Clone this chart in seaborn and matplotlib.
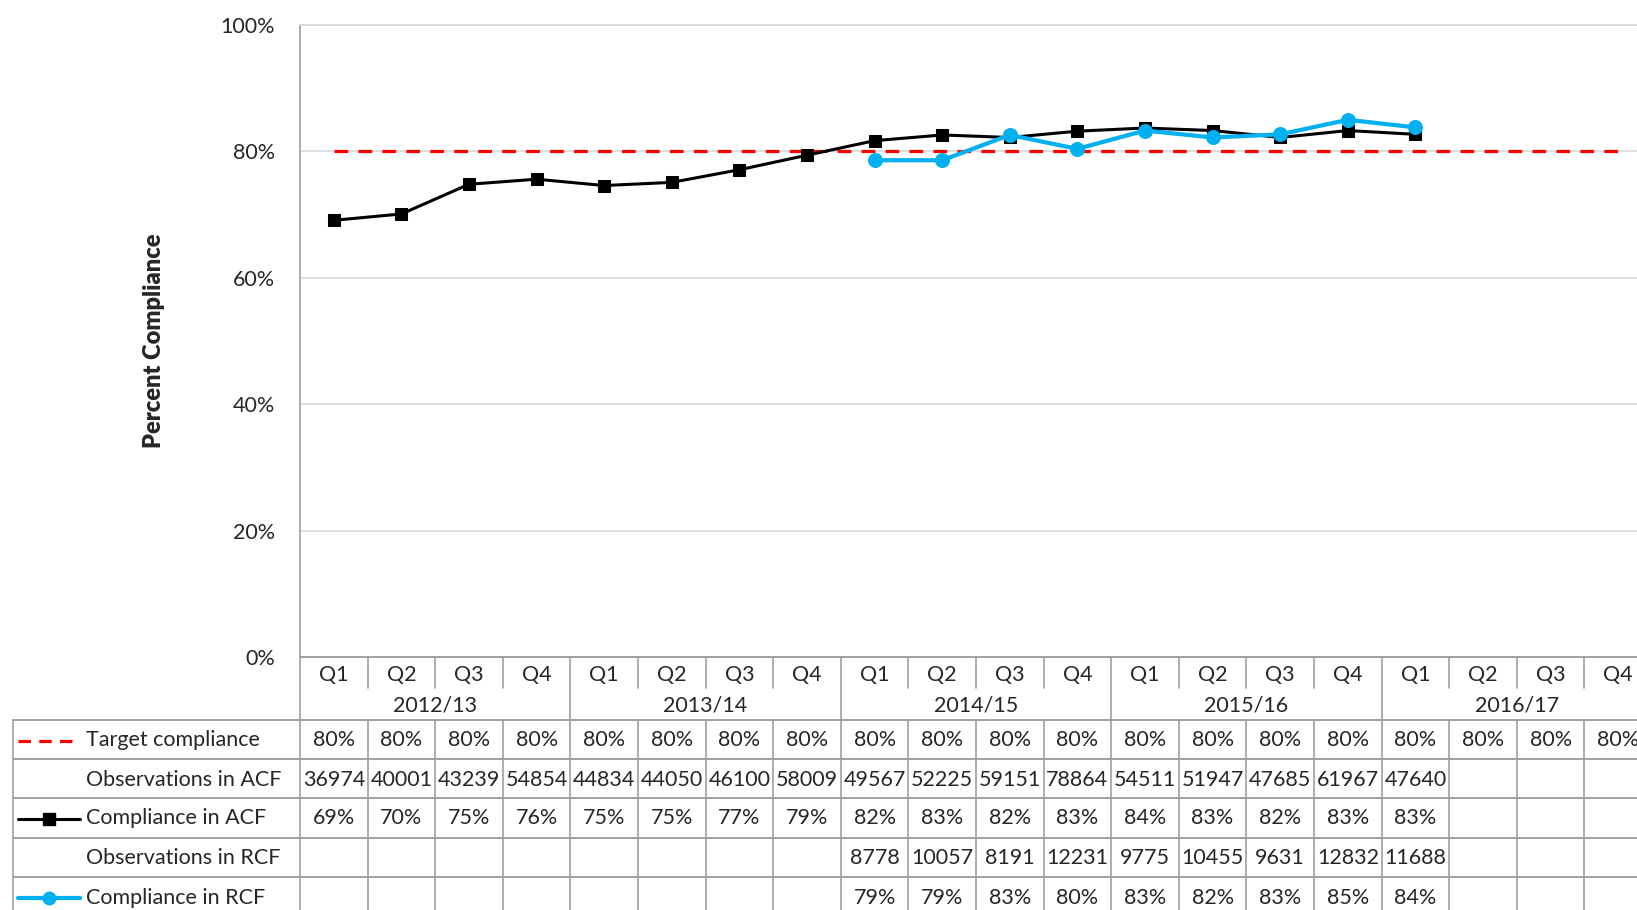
import numpy as np
import pandas as pd
import matplotlib
matplotlib.use("Agg")
import matplotlib.pyplot as plt
import matplotlib.transforms as mtransforms
from matplotlib.lines import Line2D
import seaborn as sns

sns.set_theme(style="white")
plt.rcParams["font.family"] = ["Lato", "DejaVu Sans"]

# ---- data ----
quarters = ["Q1", "Q2", "Q3", "Q4"] * 5
years = ["2012/13", "2013/14", "2014/15", "2015/16", "2016/17"]
target = [80] * 20
acf_obs = [36974, 40001, 43239, 54854, 44834, 44050, 46100, 58009,
           49567, 52225, 59151, 78864, 54511, 51947, 47685, 61967, 47640,
           None, None, None]
acf_pct = [69.1, 70.1, 74.8, 75.6, 74.6, 75.1, 77.1, 79.4,
           81.7, 82.6, 82.2, 83.2, 83.7, 83.3, 82.2, 83.3, 82.7,
           None, None, None]
rcf_obs = [None] * 8 + [8778, 10057, 8191, 12231, 9775, 10455, 9631, 12832, 11688,
                        None, None, None]
rcf_pct = [None] * 8 + [78.6, 78.6, 82.6, 80.4, 83.3, 82.2, 82.7, 85.0, 83.8,
                        None, None, None]

df = pd.DataFrame({
    "idx": np.arange(len(quarters)),
    "target": target,
    "acf": pd.array(acf_pct, dtype="Float64").astype(float),
    "rcf": pd.array(rcf_pct, dtype="Float64").astype(float),
})

W, H = 1637, 910
RED = "#FF0000"
CYAN = "#00B0F0"
GRID = "#D9D9D9"
LINE = "#A0A0A0"
FS = 15.5

fig = plt.figure(figsize=(W / 100, H / 100), dpi=100)
ax = fig.add_axes([300 / W, 1 - 657 / H, (1652 - 300) / W, (657 - 25) / H])

sns.lineplot(data=df, x="idx", y="target", ax=ax, color=RED, lw=2.3,
             linestyle=(0, (4.3, 3.2)))
sns.lineplot(data=df, x="idx", y="acf", ax=ax, color="black", lw=2.2,
             marker="s", markersize=9, markeredgecolor="black")
sns.lineplot(data=df, x="idx", y="rcf", ax=ax, color=CYAN, lw=3,
             marker="o", markersize=10, markeredgecolor=CYAN)

ax.set_xlim(-0.5, len(quarters) - 0.5)
ax.set_ylim(0, 100)
ax.set_yticks(np.arange(0, 101, 20))
ax.set_yticklabels([f"{v}%" for v in range(0, 101, 20)], fontsize=FS)
ax.tick_params(axis="y", length=0, pad=18)
ax.set_xticks([])
ax.set_xlabel("")
ax.set_ylabel("Percent Compliance", fontsize=17, fontweight="heavy", labelpad=40)
ax.yaxis.grid(True, color=GRID, lw=1.2)
for s in ["right", "bottom"]:
    ax.spines[s].set_visible(False)
ax.spines["left"].set_color(LINE)
ax.spines["top"].set_color(GRID)

# ---- data table below the plot ----
trans = mtransforms.blended_transform_factory(ax.transData, fig.transFigure)


def fy(px):
    return 1 - px / H


def fx(px):
    return px / W


def vline(x, y0, y1):
    fig.add_artist(Line2D([x, x], [fy(y0), fy(y1)], transform=trans,
                          color=LINE, lw=1.2))


def hline(x0px, y):
    fig.add_artist(Line2D([fx(x0px), 1.0], [fy(y), fy(y)],
                          transform=fig.transFigure, color=LINE, lw=1.4))


n = len(quarters)
# category axis header
hline(300, 657)
for i in range(n + 1):
    if i % 4 == 0:
        vline(i - 0.5, 657, 912)
    else:
        vline(i - 0.5, 657, 688)
        vline(i - 0.5, 720, 912)
for i, q in enumerate(quarters):
    fig.text(i, fy(675), q, transform=trans, ha="center", va="center", fontsize=FS)
for k, yr in enumerate(years):
    fig.text(4 * k + 1.5, fy(706), yr, transform=trans, ha="center", va="center",
             fontsize=FS)

row_tops = [720, 759, 798, 838, 877]
row_h = 39
for yt in row_tops:
    hline(13, yt)
fig.add_artist(Line2D([fx(13), fx(13)], [fy(720), fy(912)],
                      transform=fig.transFigure, color=LINE, lw=1.2))


def pct(v):
    return "" if v is None else f"{round(v)}%"


def num(v):
    return "" if v is None else str(v)


rows = [
    ("Target compliance", [pct(v) for v in target]),
    ("Observations in ACF", [num(v) for v in acf_obs]),
    ("Compliance in ACF", [pct(v) for v in acf_pct]),
    ("Observations in RCF", [num(v) for v in rcf_obs]),
    ("Compliance in RCF", [pct(v) for v in rcf_pct]),
]
keys = {
    0: dict(color=RED, lw=2.3, linestyle=(0, (3.9, 2.6)), marker=None),
    2: dict(color="black", lw=2.2, linestyle="-", marker="s", markersize=8),
    4: dict(color=CYAN, lw=3, linestyle="-", marker="o", markersize=9,
            markeredgecolor=CYAN),
}
for r, (label, vals) in enumerate(rows):
    yc = row_tops[r] + row_h / 2 + 1
    fig.text(fx(86), fy(yc), label, ha="left", va="center", fontsize=FS)
    if r in keys:
        kw = keys[r]
        fig.add_artist(Line2D([fx(18), fx(49), fx(80)], [fy(yc)] * 3,
                              transform=fig.transFigure, markevery=[1], **kw))
    for i, t in enumerate(vals):
        if t:
            fig.text(i, fy(yc), t, transform=trans, ha="center", va="center",
                     fontsize=FS)

fig.savefig("out.png", dpi=100)
